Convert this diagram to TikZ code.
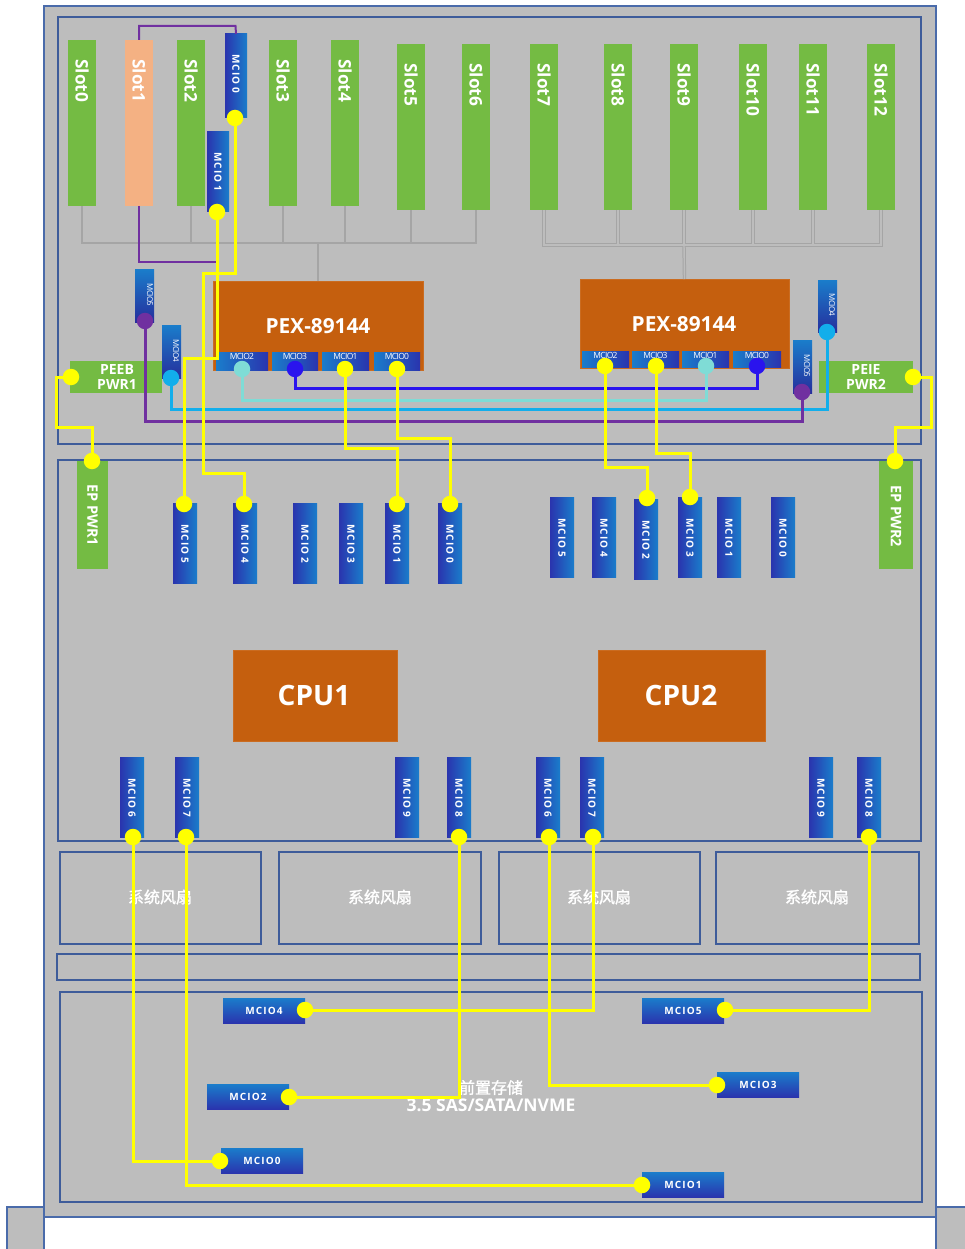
\documentclass[tikz,border=0pt]{standalone}
\usepackage{fontspec}
\setmainfont{Open Sans}
\newfontfamily\cjk{Noto Sans CJK SC}
\newcommand{\bx}[6]{%
  \pgfmathsetmacro\bw{#4-#2}\pgfmathsetmacro\bh{#5-#3}%
  \pgfmathsetmacro\bcx{(#2+#4)/2}\pgfmathsetmacro\bcy{(#3+#5)/2}%
  \node[#6,minimum width=\bw pt,minimum height=\bh pt] (#1) at (\bcx,\bcy) {};}
\newcommand{\slotbox}[5][green]{% name x y1 y2 text
  \pgfmathsetmacro\sxr{#3+28}%
  \bx{#2}{#3}{#4}{\sxr}{#5}{plain,fill=slot#1}}
\tikzset{
  plain/.style={rectangle,inner sep=0pt,outer sep=0pt},
  frame/.style={plain,draw=frameblue,line width=2pt,fill=panel},
  fanbox/.style={plain,draw=frameblue,line width=2pt},
  chip/.style={plain,fill=chiporange,draw=chiporange!92!white,line width=.3pt},
  mv/.style={plain,left color=mcdark,right color=mclight},
  mh/.style={plain,top color=mclight,bottom color=mcdark},
  mb/.style={plain,top color=mclight,bottom color=mcdark!90!black},
  vtxt/.style={text=white,rotate=-90,inner sep=0pt},
  slottxt/.style={vtxt,anchor=west,font=\fontsize{17.3}{18}\selectfont\bfseries},
  mtxt/.style={vtxt,font=\fontsize{10}{11}\selectfont\bfseries\addfontfeature{LetterSpace=8}},
  stxt/.style={vtxt,font=\fontsize{8}{9}\selectfont\addfontfeature{LetterSpace=-8}},
  htxt/.style={text=white,inner sep=0pt,font=\fontsize{10}{11}\selectfont\bfseries\addfontfeature{LetterSpace=11}},
  ptxt/.style={text=white,inner sep=0pt,font=\fontsize{8.5}{9}\selectfont\addfontfeature{LetterSpace=-8}},
  pwr/.style={text=white,inner sep=0pt,align=center,font=\fontsize{14}{15}\selectfont\bfseries},
  eptxt/.style={vtxt,font=\fontsize{14.5}{15}\selectfont\bfseries},
  dotn/.style={circle,inner sep=0pt,outer sep=0pt,minimum size=16.5pt},
  wire/.style={line width=3pt,line join=miter},
  gwire/.style={draw=wiregray,line width=1.6pt},
  gout/.style={draw=wiregray,line width=3.4pt},
  ginn/.style={draw=panel,line width=1.4pt},
  bigt/.style={text=white,inner sep=0pt,font=\fontsize{28}{30}\selectfont\bfseries},
  pext/.style={text=white,inner sep=0pt,font=\fontsize{20.8}{22}\selectfont\bfseries},
  fant/.style={text=white,inner sep=0pt,font=\cjk\fontsize{16}{18}\selectfont\addfontfeature{FakeBold=1.5}},
  baytxt/.style={text=white,inner sep=0pt,align=center,font=\fontsize{17.5}{18}\selectfont\bfseries},
}
\definecolor{panel}{HTML}{BDBDBD}
\definecolor{frameblue}{HTML}{3E5C9A}
\definecolor{outerblue}{HTML}{4A6BAA}
\definecolor{slotgreen}{HTML}{74BB43}
\definecolor{slotpeach}{HTML}{F4B183}
\definecolor{chiporange}{HTML}{C55F0E}
\definecolor{mcdark}{HTML}{2A34AE}
\definecolor{mclight}{HTML}{1A7DCB}
\definecolor{wyellow}{HTML}{FFFF00}
\definecolor{wblue}{HTML}{2A14EE}
\definecolor{wteal}{HTML}{7FDCD6}
\definecolor{wcyan}{HTML}{12AEEB}
\definecolor{wpurple}{HTML}{7030A0}
\definecolor{wiregray}{HTML}{A5A5A5}
\begin{document}
\begin{tikzpicture}[x=1pt,y=-1pt]
\useasboundingbox (0,0) rectangle (964,1249);
% chassis
\bx{earL}{7}{1207}{44}{1260}{plain,fill=panel,draw=outerblue,line width=1.5pt}
\bx{earR}{936}{1207}{975}{1260}{plain,fill=panel,draw=outerblue,line width=1.5pt}
\bx{chassis}{44}{6}{936}{1217}{plain,fill=panel,draw=outerblue,line width=1.5pt}
\bx{top}{58}{17}{921}{444}{frame}
\bx{mid}{58}{460}{921}{841}{frame}
\bx{fanA}{60}{852}{261}{944}{fanbox}
\bx{fanB}{279}{852}{481}{944}{fanbox}
\bx{fanC}{499}{852}{700}{944}{fanbox}
\bx{fanD}{716}{852}{919}{944}{fanbox}
\bx{strip}{57}{954}{920}{980}{fanbox}
\bx{bay}{60}{992}{922}{1202}{fanbox}
\foreach \fn/\fx in {fanA/160,fanB/380,fanC/599,fanD/817}
  \node[fant] (\fn-t) at (\fx,897) {系统风扇};
\node[baytxt] (bay-t) at (491,1096) {{\mdseries\cjk\fontsize{16}{18}\selectfont\addfontfeature{FakeBold=1.5}前置存储}\\3.5 SAS/SATA/NVME};
% slots
\slotbox{s0}{68}{40}{206}
\slotbox[peach]{s1}{125}{40}{206}
\slotbox{s2}{177}{40}{206}
\slotbox{s3}{269}{40}{206}
\slotbox{s4}{331}{40}{206}
\slotbox{s5}{397}{44}{210}
\slotbox{s6}{462}{44}{210}
\slotbox{s7}{530}{44}{210}
\slotbox{s8}{604}{44}{210}
\slotbox{s9}{670}{44}{210}
\slotbox{s10}{739}{44}{210}
\slotbox{s11}{799}{44}{210}
\slotbox{s12}{867}{44}{210}
\foreach \sn/\st in {s0/Slot0,s1/Slot1,s2/Slot2,s3/Slot3,s4/Slot4,s5/Slot5,s6/Slot6,s7/Slot7,s8/Slot8,s9/Slot9,s10/Slot10,s11/Slot11,s12/Slot12}
  \node[slottxt] (\sn-t) at ([yshift=-19pt]\sn.north) {\st};
% chips
\bx{pexA}{213}{281}{423}{370}{chip}
\bx{pexB}{580}{279}{789}{368}{chip}
\node[pext] (pexA-t) at (318,326) {PEX-89144};
\node[pext] (pexB-t) at (684,324) {PEX-89144};
\bx{cpuA}{233}{650}{397}{741}{chip}
\bx{cpuB}{598}{650}{765}{741}{chip}
\node[bigt] (cpuA-t) at (314,695) {CPU1};
\node[bigt] (cpuB-t) at (681,695) {CPU2};
% gray buses
\coordinate (busL) at (318,243);
\coordinate (busR) at (684,245);
\foreach \sn in {s0,s2,s3,s4,s5,s6} \draw[gwire] (\sn.south) |- (busL);
\draw[gwire] (pexA.north) -- (busL);
\foreach \sn in {s7,s8,s9,s10,s11,s12} \draw[gout] (\sn.south) |- (busR);
\draw[gout] (pexB.north) -- (busR);
\foreach \sn in {s7,s8,s9,s10,s11,s12} \draw[ginn] (\sn.south) |- (busR);
\draw[ginn] (pexB.north) -- (busR);
% power
\bx{peeb}{70}{361}{162}{393}{plain,fill=slotgreen}
\node[pwr] (peeb-t) at (117,377) {PEEB\\PWR1};
\bx{peie}{819}{361}{913}{393}{plain,fill=slotgreen}
\node[pwr] (peie-t) at (866,377) {PEIE\\PWR2};
\bx{epA}{77}{461}{108}{569}{plain,fill=slotgreen}
\node[eptxt] (epA-t) at (92.5,515) {EP PWR1};
\bx{epB}{879}{461}{913}{569}{plain,fill=slotgreen}
\node[eptxt] (epB-t) at (896,516) {EP PWR2};
% riser connectors
\bx{rz}{225}{34}{247}{118}{mv}
\node[mtxt] (rz-t) at (236,74) {MCIO 0};
\bx{ro}{207}{132}{229}{212}{mv}
\node[mtxt] (ro-t) at (218,172) {MCIO 1};
% small side connectors
\bx{aq5}{135}{269}{154}{322}{mb}
\node[stxt] (aq5-t) at (150,295) {MCIO5};
\bx{aq4}{162}{325}{181}{378}{mb}
\node[stxt] (aq4-t) at (176,351) {MCIO4};
\bx{bq4}{818}{280}{837}{332}{mb}
\node[stxt] (bq4-t) at (832,305) {MCIO4};
\bx{bq5}{793}{340}{812}{393}{mb}
\node[stxt] (bq5-t) at (807,366) {MCIO5};
% PEX connectors
\foreach \pn/\pa/\pb/\pt/\py/\pz in {a2/216/268/MCIO2/352/370,a3/272/318/MCIO3/352/370,a1/322/369/MCIO1/352/370,a0/374/420/MCIO0/352/370,
                            b2/582/629/MCIO2/351/367,b3/632/679/MCIO3/351/367,b1/682/729/MCIO1/351/367,b0/733/781/MCIO0/351/367}{
  \bx{\pn}{\pa}{\py}{\pb}{\pz}{plain,left color=mclight,right color=mcdark}
  \pgfmathsetmacro\ptx{(\pa+\pb)/2}
  \pgfmathsetmacro\pty{\py+4.5}
  \node[ptxt] (\pn-t) at (\ptx,\pty) {\pt};
}
% midplane connectors
\foreach \mn/\mx/\my/\mt in {
  l5/173/503/MCIO 5,l4/233/503/MCIO 4,l2/293/503/MCIO 2,l3/339/503/MCIO 3,l1/385/503/MCIO 1,l0/438/503/MCIO 0,
  r5/550/497/MCIO 5,r4/592/497/MCIO 4,r2/634/499/MCIO 2,r3/678/497/MCIO 3,r1/717/497/MCIO 1,r0/771/497/MCIO 0,
  u6/120/757/MCIO 6,u7/175/757/MCIO 7,u9/395/757/MCIO 9,u8/447/757/MCIO 8,
  w6/536/757/MCIO 6,w7/580/757/MCIO 7,w9/809/757/MCIO 9,w8/857/757/MCIO 8}{
  \pgfmathsetmacro\mxr{\mx+24}
  \pgfmathsetmacro\myb{\my+80}
  \bx{\mn}{\mx}{\my}{\mxr}{\myb}{mv}
  \pgfmathsetmacro\mtx{\mx+12}
  \pgfmathsetmacro\mty{\my+41}
  \node[mtxt] (\mn-t) at (\mtx,\mty) {\mt};
}
% drive bay connectors
\foreach \dn/\dx/\dy/\dt in {f4/223/998/MCIO4,f5/642/998/MCIO5,f3/717/1072/MCIO3,f2/207/1084/MCIO2,f0/221/1148/MCIO0,f1/642/1172/MCIO1}{
  \pgfmathsetmacro\dxr{\dx+82}
  \pgfmathsetmacro\dyb{\dy+25}
  \bx{\dn}{\dx}{\dy}{\dxr}{\dyb}{mh}
  \node[htxt] (\dn-t) at (\dn) {\dt};
}
% dots
\foreach \dn/\dx/\dy/\dc in {
  Drz/235/118/wyellow,Dro/217/212/wyellow,
  Da2/242/369/wteal,Da3/295/369/wblue,Da1/345/369/wyellow,Da0/397/369/wyellow,
  Db2/605/366/wyellow,Db3/656/366/wyellow,Db1/706/366/wteal,Db0/757/366/wblue,
  Daq5/145/321/wpurple,Daq4/171/378/wcyan,Dbq4/827/332/wcyan,Dbq5/802/392/wpurple,
  Dpe/71/377/wyellow,Dpi/913/377/wyellow,DepA/92/461/wyellow,DepB/895/461/wyellow,
  Dl5/184/504/wyellow,Dl4/244/504/wyellow,Dl1/397/504/wyellow,Dl0/450/504/wyellow,
  Dr2/647/498/wyellow,Dr3/690/497/wyellow,
  Du6/133/837/wyellow,Du7/186/837/wyellow,Du8/459/837/wyellow,
  Dw6/549/837/wyellow,Dw7/593/837/wyellow,Dw8/869/837/wyellow,
  Df4/305/1010/wyellow,Df5/725/1010/wyellow,Df3/717/1085/wyellow,Df2/289/1097/wyellow,Df0/220/1161/wyellow,Df1/642/1185/wyellow}
  \node[dotn,fill=\dc] (\dn) at (\dx,\dy) {};
% purple and coloured wires
\draw[wire,draw=wpurple,line width=2pt] (s1.north) |- (235.5,26) -- (rz.north);
\draw[wire,draw=wpurple,line width=2pt] (s1.south) |- (216,262);
\draw[wire,draw=wblue] (Da3) -- (295,388) -- (757,388) -- (Db0);
\draw[wire,draw=wteal] (Da2) -- (242,400) -- (706,400) -- (Db1);
\draw[wire,draw=wcyan] (Daq4) -- (171,409) -- (827,409) -- (Dbq4);
\draw[wire,draw=wpurple] (Daq5) -- (145,421) -- (802,421) -- (Dbq5);
% yellow wires
\begin{scope}[wire,draw=wyellow]
\draw (Drz) -- (235,273) -- (203,273) -- (203,473) -- (244,473) -- (Dl4);
\draw (Dro) -- (217,358) -- (184,358) -- (Dl5);
\draw (Da1) -- (345,448) -- (397,448) -- (Dl1);
\draw (Da0) -- (397,438) -- (450,438) -- (Dl0);
\draw (Db2) -- (605,467) -- (647,467) -- (Dr2);
\draw (Db3) -- (656,453) -- (690,453) -- (Dr3);
\draw (Dpe) -- (56,377) -- (56,427) -- (92,427) -- (DepA);
\draw (Dpi) -- (931,377) -- (931,427) -- (895,427) -- (DepB);
\draw (Df4) -- (593,1010) -- (Dw7);
\draw (Df5) -- (869,1010) -- (Dw8);
\draw (Df3) -- (549,1085) -- (Dw6);
\draw (Df2) -- (459,1097) -- (Du8);
\draw (Df0) -- (133,1161) -- (Du6);
\draw (Df1) -- (186,1185) -- (Du7);
\end{scope}
\end{tikzpicture}
\end{document}
